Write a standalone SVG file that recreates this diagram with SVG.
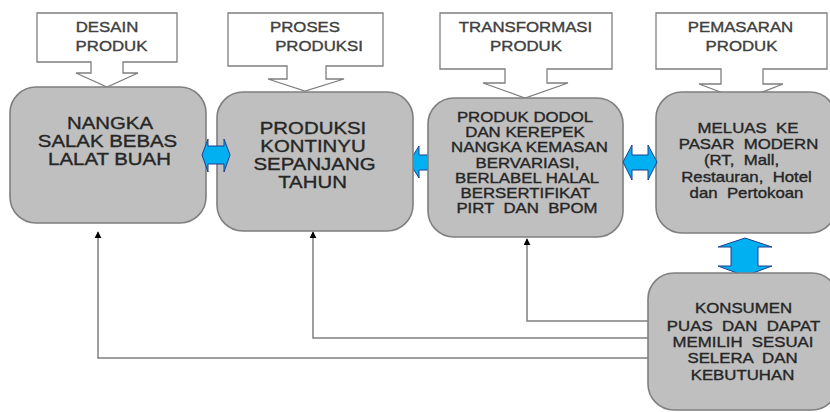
<svg xmlns="http://www.w3.org/2000/svg" width="830" height="412" viewBox="0 0 830 412">
<style>
.callout{fill:#fff;stroke:#7f7f7f;stroke-width:1.3}
.box{fill:#bfbfbf;stroke:#7f7f7f;stroke-width:1.6}
.blue{fill:#00b0f0;stroke:#1f3f8f;stroke-width:1}
.conn{fill:none;stroke:#7f7f7f;stroke-width:1.5}
text{font-family:"Liberation Sans",Arial,sans-serif;text-anchor:middle;fill:#262626;stroke:#262626;stroke-width:0.35;white-space:pre}
.ct{font-size:14px;fill:#404040;stroke:#404040}
.big{font-size:17px}
.mid{font-size:14px}
</style>
<defs>
<marker id="ah" viewBox="0 0 10 10" refX="9" refY="5" markerWidth="7" markerHeight="7" orient="auto" markerUnits="userSpaceOnUse">
<path d="M0,0 L10,5 L0,10 Z" fill="#000"/>
</marker>
</defs>

<g id="connectors">
<polyline class="conn" points="648,321 527,321 527,239" marker-end="url(#ah)"/>
<polyline class="conn" points="648,338 313,338 313,232" marker-end="url(#ah)"/>
<polyline class="conn" points="648,358 98,358 98,232" marker-end="url(#ah)"/>
<path id="arrow-2-3" class="blue" d="M409,162 L419,146 L419,155 L432,155 L432,170 L419,170 L419,178 Z"/>
<path id="arrow-4-5" class="blue" d="M745,238 L772,247 L758,247 L758,266 L772,266 L745,276 L718,266 L731,266 L731,247 L718,247 Z"/>
</g>

<g id="callout-desain">
<path class="callout" d="M37,13 H177 V62 H123 V73 H138 L107,87 L76,73 H91 V62 H37 Z"/>
<text class="ct" transform="matrix(1.2 0 0 1 107 32)">DESAIN</text>
<text class="ct" transform="matrix(1.2 0 0 1 111.5 51)">PRODUK</text>
</g>
<g id="callout-proses">
<path class="callout" d="M228,13 H383 V66 H326 V79 H344 L305,91 L268,79 H287 V66 H228 Z"/>
<text class="ct" transform="matrix(1.2 0 0 1 305 32)">PROSES</text>
<text class="ct" transform="matrix(1.2 0 0 1 319 51)">PRODUKSI</text>
</g>
<g id="callout-transformasi">
<path class="callout" d="M440,13 H612 V69 H547 V83 H568 L525,98 L483,83 H505 V69 H440 Z"/>
<text class="ct" transform="matrix(1.2 0 0 1 525.5 32)">TRANSFORMASI</text>
<text class="ct" transform="matrix(1.2 0 0 1 526 51)">PRODUK</text>
</g>
<g id="callout-pemasaran">
<path class="callout" d="M656,13 H827 V69 H763 V84 H783 L742,100 L699,84 H721 V69 H656 Z"/>
<text class="ct" transform="matrix(1.2 0 0 1 740.5 32)">PEMASARAN</text>
<text class="ct" transform="matrix(1.2 0 0 1 741.5 51)">PRODUK</text>
</g>

<g id="box-nangka">
<rect class="box" x="10" y="87" width="196" height="136" rx="26"/>
<text class="big" transform="matrix(1.2 0 0 1 110 129)">NANGKA</text>
<text class="big" transform="matrix(1.2 0 0 1 107.5 147)">SALAK BEBAS</text>
<text class="big" transform="matrix(1.2 0 0 1 109.5 165)">LALAT BUAH</text>
</g>
<g id="box-produksi">
<rect class="box" x="217" y="92" width="196" height="139" rx="26"/>
<text class="big" transform="matrix(1.2 0 0 1 313 134)">PRODUKSI</text>
<text class="big" transform="matrix(1.2 0 0 1 313 152)">KONTINYU</text>
<text class="big" transform="matrix(1.2 0 0 1 314.5 170)">SEPANJANG</text>
<text class="big" transform="matrix(1.2 0 0 1 312.5 188)">TAHUN</text>
</g>
<g id="box-transformasi">
<rect class="box" x="428" y="98" width="195" height="139" rx="26"/>
<text class="mid" transform="matrix(1.2 0 0 1 525 122)">PRODUK DODOL</text>
<text class="mid" transform="matrix(1.2 0 0 1 525 137)">DAN KEREPEK</text>
<text class="mid" transform="matrix(1.2 0 0 1 529.5 152)">NANGKA KEMASAN</text>
<text class="mid" transform="matrix(1.2 0 0 1 527.5 168)">BERVARIASI,</text>
<text class="mid" transform="matrix(1.2 0 0 1 527 183)">BERLABEL HALAL</text>
<text class="mid" transform="matrix(1.2 0 0 1 525.5 198)">BERSERTIFIKAT</text>
<text class="mid" transform="matrix(1.2 0 0 1 527 213)">PIRT  DAN  BPOM</text>
</g>
<g id="box-pemasaran">
<rect class="box" x="656" y="92" width="180" height="141" rx="26"/>
<text class="mid" transform="matrix(1.2 0 0 1 748 133)">MELUAS  KE</text>
<text class="mid" transform="matrix(1.2 0 0 1 748.5 149)">PASAR  MODERN</text>
<text class="mid" transform="matrix(1.2 0 0 1 741.5 165)">(RT,  Mall,</text>
<text class="mid" transform="matrix(1.2 0 0 1 746.5 182)">Restauran,  Hotel</text>
<text class="mid" transform="matrix(1.2 0 0 1 746.5 198)">dan  Pertokoan</text>
</g>
<g id="box-konsumen">
<rect class="box" x="648" y="273" width="190" height="137" rx="26"/>
<text class="mid" transform="matrix(1.2 0 0 1 743.5 313)">KONSUMEN</text>
<text class="mid" transform="matrix(1.2 0 0 1 743.5 331)">PUAS  DAN  DAPAT</text>
<text class="mid" transform="matrix(1.2 0 0 1 743 347)">MEMILIH  SESUAI</text>
<text class="mid" transform="matrix(1.2 0 0 1 742.5 363)">SELERA  DAN</text>
<text class="mid" transform="matrix(1.2 0 0 1 742.5 380)">KEBUTUHAN</text>
</g>

<g id="blue-arrows">
<path id="arrow-1-2" class="blue" d="M202,155 L208,139 L208,146 L224,146 L224,139 L230,155 L224,172 L224,164 L208,164 L208,172 Z"/>
<path id="arrow-3-4" class="blue" d="M623,162 L632,145 L632,155 L648,155 L648,145 L657,162 L648,180 L648,170 L632,170 L632,180 Z"/>
</g>
</svg>
